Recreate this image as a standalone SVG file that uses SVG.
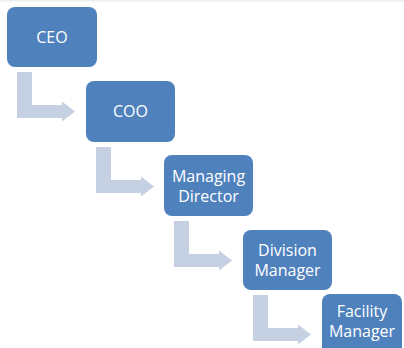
<svg xmlns="http://www.w3.org/2000/svg" width="404" height="348" viewBox="0 0 404 348">
  <defs>
    <style>
      .box { fill: #4f81bd; }
      .lbl { fill: #ffffff; font-family: "Open Sans", "Liberation Sans", sans-serif; font-size: 16px; text-anchor: middle; }
      .elbow { fill: #c5d0e3; }
    </style>
    <!-- bent arrow: drops down, then turns right into the next box -->
    <path id="elbow-arrow" d="M0,0 H15 V33 H45 V29.5 L58,39.5 L45,49.5 V46 H0 Z"/>
  </defs>

  <rect x="0" y="0" width="404" height="348" fill="#ffffff"/>
  <rect x="0" y="0" width="404" height="1.5" fill="#eeeeee"/>

  <g id="connectors" class="elbow">
    <use href="#elbow-arrow" transform="translate(17,72)"/>
    <use href="#elbow-arrow" transform="translate(96,147)"/>
    <use href="#elbow-arrow" transform="translate(174,221)"/>
    <use href="#elbow-arrow" transform="translate(253,295)"/>
  </g>

  <g id="ceo">
    <rect class="box" x="7" y="7" width="90" height="60" rx="8"/>
    <text class="lbl" x="52" y="43">CEO</text>
  </g>

  <g id="coo">
    <rect class="box" x="86" y="81" width="89" height="61" rx="8"/>
    <text class="lbl" x="130.5" y="117">COO</text>
  </g>

  <g id="managing-director">
    <rect class="box" x="164" y="155" width="89" height="61" rx="8"/>
    <text class="lbl" x="208.5" y="181.5">Managing</text>
    <text class="lbl" x="208.5" y="201.5">Director</text>
  </g>

  <g id="division-manager">
    <rect class="box" x="243" y="230" width="89" height="60" rx="8"/>
    <text class="lbl" x="287.5" y="255.5">Division</text>
    <text class="lbl" x="287.5" y="275.5">Manager</text>
  </g>

  <g id="facility-manager">
    <rect class="box" x="322" y="294" width="80" height="70" rx="8"/>
    <text class="lbl" x="362" y="317">Facility</text>
    <text class="lbl" x="362" y="337">Manager</text>
  </g>
</svg>
